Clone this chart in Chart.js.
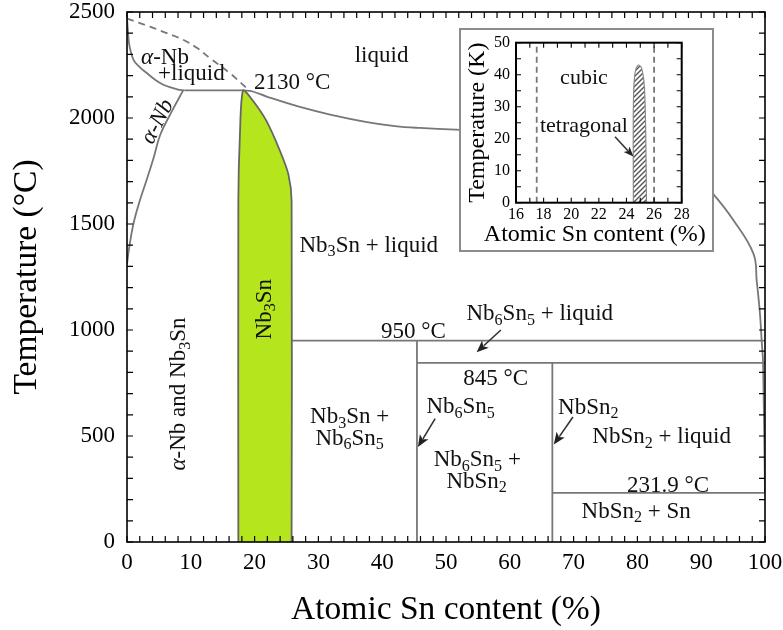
<!DOCTYPE html>
<html>
<head>
<meta charset="utf-8">
<script src="https://cdn.jsdelivr.net/npm/chart.js@4.4.1/dist/chart.umd.min.js"></script>
<style>
  html, body { margin: 0; padding: 0; background: #fff; }
  #stage { position: relative; width: 783px; height: 630px; overflow: hidden; background: #fff; }
  #main { position: absolute; left: 0; top: 0; }
  #insetBox { position: absolute; left: 459px; top: 28px; width: 255px; height: 224px;
              box-sizing: border-box; border: 2px solid #8c8c8c; background: #fff; }
  #inset { position: absolute; left: 0; top: 0; }
</style>
</head>
<body>
<div id="stage">
  <canvas id="main" width="783" height="630"></canvas>
  <div id="insetBox"><canvas id="inset" width="251" height="220"></canvas></div>
</div>
<script>
// ---------- Nb–Sn phase diagram: composition (at.% Sn) vs temperature (°C) ----------
const xTicksMain = [0, 10, 20, 30, 40, 50, 60, 70, 80, 90, 100];
const yTicksMain = [0, 500, 1000, 1500, 2000, 2500];

// liquidus on the Nb-rich side (solid)
const liquidusNbX = [0, 0.15, 0.36, 1.0, 2.0, 3.1, 4.3, 5.7, 7.0, 8.0, 9.0];
const liquidusNbT = [2469, 2410, 2345, 2275, 2240, 2212, 2183, 2157, 2143, 2134, 2130];

// metastable extension of the liquidus (dashed)
const metastableX = [0, 3.6, 6.0, 8.8, 11.0, 13.0, 16.1, 18.8];
const metastableT = [2469, 2431, 2403, 2369, 2330, 2282, 2212, 2140];

// α-Nb solvus
const solvusX = [0, 0.3, 1.0, 2.0, 3.1, 4.2, 5.2, 7.0, 8.8];
const solvusT = [1310, 1380, 1500, 1610, 1710, 1815, 1920, 2030, 2130];

// Nb3Sn single-phase field (closed outline)
const nb3snX = [17.45, 17.45, 17.7, 18.2, 19.8, 21.9, 24.0, 25.3, 25.8, 25.8];
const nb3snT = [0, 1608, 1922, 2130, 2079, 1984, 1843, 1734, 1608, 0];

// liquidus from the peritectic towards pure Sn
const liquidusSnX = [18.2, 19.7, 22.0, 27.1, 32.0, 37.6, 42.0, 45.9, 51.5, 60, 70, 80, 87, 91.9, 95.0, 98.2, 98.7, 99.2, 99.5, 99.7, 100];
const liquidusSnT = [2130, 2125, 2100, 2052, 2015, 1981, 1962, 1953, 1945, 1938, 1925, 1890, 1800, 1641, 1520, 1359, 1232, 1080, 939, 845, 232];

// invariant lines and line compounds
const peritectic2130X = [9.0, 18.2];   const peritectic2130T = [2130, 2130];
const peritectic950X = [25.8, 100];    const peritectic950T = [950, 950];
const peritectic845X = [45.45, 100];   const peritectic845T = [845, 845];
const eutectic232X = [66.67, 100];     const eutectic232T = [231.9, 231.9];
const nb6sn5X = [45.45, 45.45];        const nb6sn5T = [0, 950];
const nbsn2X = [66.67, 66.67];         const nbsn2T = [0, 845];

// ---------- Low-temperature detail of Nb3Sn (K) ----------
const xTicksInset = [16, 18, 20, 22, 24, 26, 28];
const yTicksInset = [0, 10, 20, 30, 40, 50];
const cubicLeftX = [17.5, 17.5];   const cubicLeftT = [0, 50];
const cubicRightX = [26, 26];      const cubicRightT = [0, 50];
const tetragonalX = [24.5, 24.5, 24.6, 24.85, 25.1, 25.3, 25.4, 25.45];
const tetragonalT = [0, 30, 40, 43, 42, 36, 20, 0];

// ---------- text annotations ----------
const mainLabels = [
  { text: 'liquid', x: 39.9, y: 2298 },
  { text: 'α-Nb', x: 5.96, y: 2291 },
  { text: '+liquid', x: 10.1, y: 2212 },
  { text: 'α-Nb', x: 4.65, y: 1985, rot: -62.7, italic: true },
  { text: '2130 °C', x: 25.9, y: 2173 },
  { text: 'Nb_3Sn + liquid', x: 37.9, y: 1405 },
  { text: 'Nb_3Sn', x: 21.4, y: 1098, rot: -90 },
  { text: 'α-Nb and Nb_3Sn', x: 8.0, y: 698, rot: -90 },
  { text: 'Nb_6Sn_5 + liquid', x: 64.7, y: 1080 },
  { text: '950 °C', x: 44.9, y: 995 },
  { text: '845 °C', x: 57.8, y: 776 },
  { text: 'Nb_3Sn +', x: 34.9, y: 596 },
  { text: 'Nb_6Sn_5', x: 34.9, y: 494 },
  { text: 'Nb_6Sn_5', x: 52.3, y: 643 },
  { text: 'Nb_6Sn_5 +', x: 54.9, y: 392 },
  { text: 'NbSn_2', x: 54.8, y: 290 },
  { text: 'NbSn_2', x: 72.3, y: 639 },
  { text: 'NbSn_2 + liquid', x: 83.8, y: 502 },
  { text: '231.9 °C', x: 84.8, y: 272 },
  { text: 'NbSn_2 + Sn', x: 79.8, y: 149 }
];
const mainArrows = [
  { x1: 58.6, y1: 1000, x2: 54.8, y2: 895 },
  { x1: 48.3, y1: 582, x2: 45.6, y2: 448 },
  { x1: 69.9, y1: 590, x2: 66.9, y2: 460 }
];
const insetLabels = [
  { text: 'cubic', x: 20.92, y: 39.2 },
  { text: 'tetragonal', x: 20.92, y: 24.3 }
];
const insetArrows = [
  { x1: 23.17, y1: 20.6, x2: 24.5, y2: 14.4 }
];

// ---------- drawing helpers ----------
const FAMILY = '"Liberation Serif", "Times New Roman", serif';
const GRAY = '#777777';
const GREEN = '#b5e61d';

const pts = (xs, ys) => xs.map((x, i) => ({ x, y: ys[i] }));
const line = (xs, ys, extra) => Object.assign({
  data: pts(xs, ys), showLine: true, pointRadius: 0, pointHoverRadius: 0,
  borderColor: GRAY, borderWidth: 1.8, tension: 0, fill: false
}, extra || {});

// draws text with "_x" subscripts, centred on (cx, cy)
function drawRich(ctx, text, cx, cy, size, italicAll) {
  const segs = [];
  for (let i = 0; i < text.length; i++) {
    const c = text[i];
    const seg = c === '_' ? { s: text[++i], sub: true } : { s: c, sub: false };
    seg.it = italicAll || seg.s === 'α';
    const last = segs[segs.length - 1];
    if (last && last.sub === seg.sub && last.it === seg.it) last.s += seg.s; else segs.push(seg);
  }
  const fontOf = sg => (sg.it ? 'italic ' : '') + (sg.sub ? size * 0.7 : size) + 'px ' + FAMILY;
  let w = 0;
  segs.forEach(sg => { ctx.font = fontOf(sg); sg.w = ctx.measureText(sg.s).width; w += sg.w; });
  let x = cx - w / 2;
  const base = cy + size * 0.32;
  ctx.textAlign = 'left';
  ctx.textBaseline = 'alphabetic';
  segs.forEach(sg => {
    ctx.font = fontOf(sg);
    ctx.fillText(sg.s, x, base + (sg.sub ? size * 0.2 : 0));
    x += sg.w;
  });
}

// inward ticks on all four sides plus the frame
const frameTicks = {
  id: 'frameTicks',
  afterDatasetsDraw(chart, args, o) {
    const { ctx, chartArea: a, scales: { x, y } } = chart;
    ctx.save();
    ctx.strokeStyle = '#000';
    ctx.lineWidth = o.tickWidth;
    ctx.beginPath();
    for (let v = x.min; v <= x.max + 1e-9; v += o.xMinor) {
      const p = x.getPixelForValue(v);
      ctx.moveTo(p, a.bottom); ctx.lineTo(p, a.bottom - o.len);
      ctx.moveTo(p, a.top); ctx.lineTo(p, a.top + o.len);
    }
    for (let v = y.min; v <= y.max + 1e-9; v += o.yMinor) {
      const p = y.getPixelForValue(v);
      ctx.moveTo(a.left, p); ctx.lineTo(a.left + o.len, p);
      ctx.moveTo(a.right, p); ctx.lineTo(a.right - o.len, p);
    }
    ctx.stroke();
    ctx.lineWidth = o.frameWidth;
    ctx.strokeRect(a.left, a.top, a.right - a.left, a.bottom - a.top);
    ctx.restore();
  }
};

// phase-field labels, pointer arrows and (optionally) axis titles
const annotations = {
  id: 'annotations',
  afterDraw(chart, args, o) {
    const { ctx, chartArea: a, scales: { x, y } } = chart;
    ctx.save();
    (o.arrows || []).forEach(ar => {
      const x1 = x.getPixelForValue(ar.x1), y1 = y.getPixelForValue(ar.y1);
      const x2 = x.getPixelForValue(ar.x2), y2 = y.getPixelForValue(ar.y2);
      const ang = Math.atan2(y2 - y1, x2 - x1);
      const hl = o.headLen, hw = o.headWidth;
      ctx.strokeStyle = '#333'; ctx.fillStyle = '#222'; ctx.lineWidth = 1.6;
      ctx.beginPath();
      ctx.moveTo(x1, y1);
      ctx.lineTo(x2 - Math.cos(ang) * hl * 0.8, y2 - Math.sin(ang) * hl * 0.8);
      ctx.stroke();
      ctx.beginPath();
      ctx.moveTo(x2, y2);
      ctx.lineTo(x2 - Math.cos(ang) * hl - Math.sin(ang) * hw, y2 - Math.sin(ang) * hl + Math.cos(ang) * hw);
      ctx.lineTo(x2 - Math.cos(ang) * hl * 0.75, y2 - Math.sin(ang) * hl * 0.75);
      ctx.lineTo(x2 - Math.cos(ang) * hl + Math.sin(ang) * hw, y2 - Math.sin(ang) * hl - Math.cos(ang) * hw);
      ctx.closePath();
      ctx.fill();
    });
    ctx.fillStyle = '#111';
    (o.labels || []).forEach(lb => {
      ctx.save();
      ctx.translate(x.getPixelForValue(lb.x), y.getPixelForValue(lb.y));
      if (lb.rot) ctx.rotate(lb.rot * Math.PI / 180);
      drawRich(ctx, lb.text, 0, 0, o.size, lb.italic);
      ctx.restore();
    });
    if (o.titles) {
      const t = o.titles;
      ctx.fillStyle = '#000';
      ctx.font = t.size + 'px ' + FAMILY;
      ctx.textAlign = 'center';
      ctx.textBaseline = 'middle';
      ctx.fillText(t.x, (a.left + a.right) / 2 + t.xShift, a.bottom + t.xOffset);
      ctx.translate(a.left - t.yOffset, (a.top + a.bottom) / 2);
      ctx.rotate(-Math.PI / 2);
      ctx.fillText(t.y, 0, 0);
    }
    ctx.restore();
  }
};

function axis(ticksArr, min, max, fixedSize, isX, tickFont, tickPad, title, titleFont, titlePad) {
  return {
    type: 'linear', min, max,
    afterBuildTicks: s => { s.ticks = ticksArr.map(v => ({ value: v })); },
    afterFit: s => {
      if (isX) { s.height = fixedSize; s.paddingLeft = 0; s.paddingRight = 0; }
      else { s.width = fixedSize; s.paddingTop = 0; s.paddingBottom = 0; }
    },
    grid: { display: false, drawTicks: false },
    border: { display: false },
    ticks: { color: '#000', font: { family: FAMILY, size: tickFont }, padding: tickPad,
             maxRotation: 0, autoSkip: false, callback: v => String(v) },
    title: { display: !!title, text: title || '', color: '#000',
             font: { family: FAMILY, size: titleFont }, padding: titlePad }
  };
}

// ---------- main diagram ----------
new Chart(document.getElementById('main'), {
  type: 'scatter',
  data: {
    datasets: [
      line(nb3snX, nb3snT, { fill: 'shape', backgroundColor: GREEN, borderColor: '#666', tension: 0.25 }),
      line(liquidusNbX, liquidusNbT, { tension: 0.4 }),
      line(metastableX, metastableT, { tension: 0.4, borderDash: [7, 5] }),
      line(solvusX, solvusT, { tension: 0.4 }),
      line(liquidusSnX, liquidusSnT, { tension: 0.4 }),
      line(peritectic2130X, peritectic2130T),
      line(peritectic950X, peritectic950T),
      line(peritectic845X, peritectic845T),
      line(eutectic232X, eutectic232T),
      line(nb6sn5X, nb6sn5T),
      line(nbsn2X, nbsn2T)
    ]
  },
  options: {
    responsive: false, animation: false, events: [],
    layout: { padding: { top: 12, right: 18, left: 0, bottom: 0 } },
    plugins: {
      legend: { display: false }, tooltip: { enabled: false },
      frameTicks: { xMinor: 2, yMinor: 100, len: 6, tickWidth: 1.2, frameWidth: 1.6 },
      annotations: { labels: mainLabels, arrows: mainArrows, size: 23, headLen: 12, headWidth: 5 }
    },
    scales: {
      x: axis(xTicksMain, 0, 100, 88, true, 23, 7, 'Atomic Sn content (%)', 33.5, { top: 0, bottom: 0 }),
      y: axis(yTicksMain, 0, 2500, 127, false, 23, 12, 'Temperature (°C)', 33.5, { top: 7, bottom: 0 })
    }
  },
  plugins: [frameTicks, annotations]
});

// ---------- inset: low-temperature structure of Nb3Sn ----------
const hatchCanvas = document.createElement('canvas');
hatchCanvas.width = 5; hatchCanvas.height = 5;
const hctx = hatchCanvas.getContext('2d');
hctx.strokeStyle = '#555'; hctx.lineWidth = 1.4;
hctx.beginPath();
hctx.moveTo(0, 5); hctx.lineTo(5, 0);
hctx.moveTo(-1, 1); hctx.lineTo(1, -1);
hctx.moveTo(4, 6); hctx.lineTo(6, 4);
hctx.stroke();
const hatch = hctx.createPattern(hatchCanvas, 'repeat');

new Chart(document.getElementById('inset'), {
  type: 'scatter',
  data: {
    datasets: [
      line(tetragonalX, tetragonalT, { fill: 'shape', backgroundColor: hatch, borderColor: '#888', borderWidth: 1.2, tension: 0.3 }),
      line(cubicLeftX, cubicLeftT, { borderDash: [6, 4] }),
      line(cubicRightX, cubicRightT, { borderDash: [6, 4] })
    ]
  },
  options: {
    responsive: false, animation: false, events: [],
    layout: { padding: { top: 12.7, right: 30.3, left: 0, bottom: 0 } },
    plugins: {
      legend: { display: false }, tooltip: { enabled: false },
      frameTicks: { xMinor: 1, yMinor: 5, len: 5, tickWidth: 1.1, frameWidth: 2 },
      annotations: {
        labels: insetLabels, arrows: insetArrows, size: 22, headLen: 10, headWidth: 4,
        titles: { x: 'Atomic Sn content (%)', y: 'Temperature (K)', size: 24,
                  xOffset: 32, xShift: -4, yOffset: 38 }
      }
    },
    scales: {
      x: axis(xTicksInset, 16, 28, 47.3, true, 16, 2, null, 24, 0),
      y: axis(yTicksInset, 0, 50, 55, false, 16, 6, null, 24, 0)
    }
  },
  plugins: [frameTicks, annotations]
});
</script>
</body>
</html>
